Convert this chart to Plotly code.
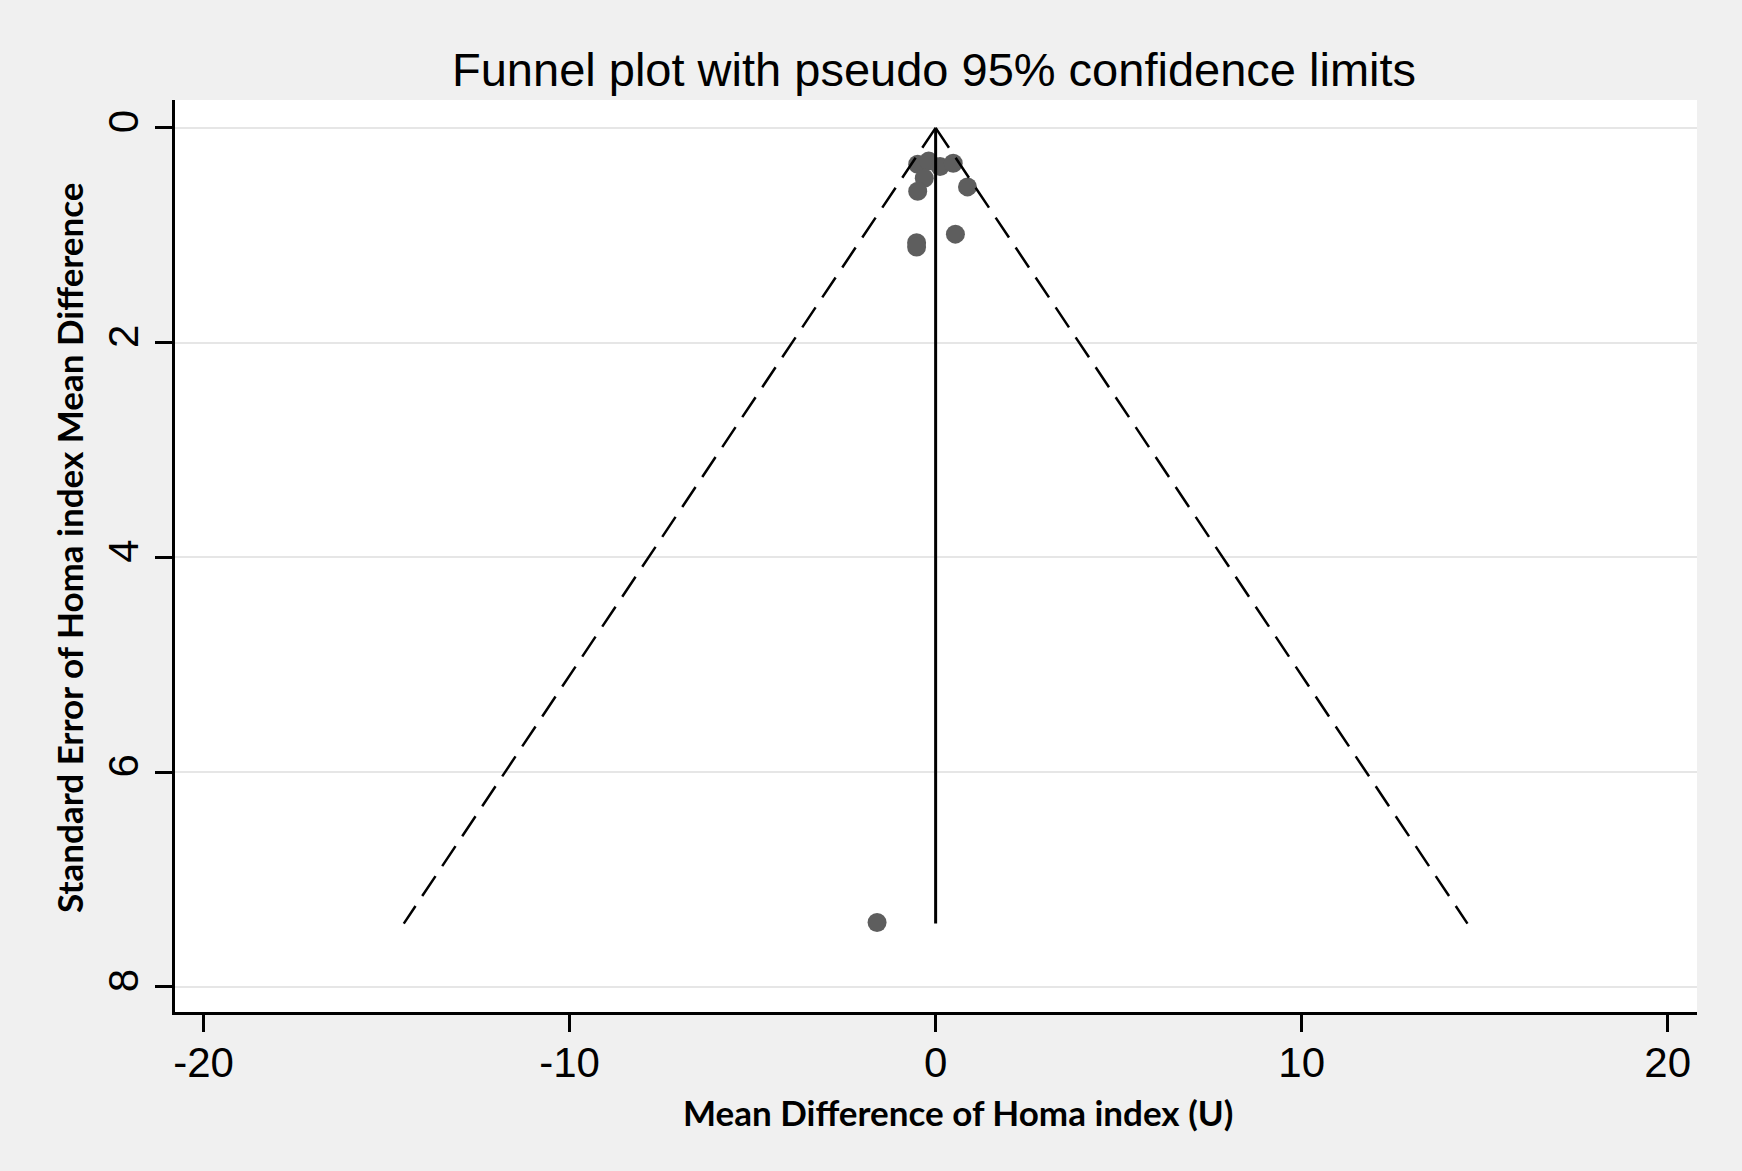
import plotly.graph_objects as go

# Study estimates (mean difference, standard error)
mean_diff = [-0.49, -0.19, 0.12, 0.48, -0.31, -0.49, 0.87, -0.52, -0.52, 0.54, -1.60]
std_err = [0.34, 0.31, 0.36, 0.33, 0.47, 0.59, 0.55, 1.07, 1.11, 0.99, 7.40]

# Pooled estimate line and pseudo 95% confidence limits
pooled_x = [0.0, 0.0]
pooled_se = [0.0, 7.41]
funnel_se = [0.0, 7.41]
funnel_lower = [0.0, -14.53]
funnel_upper = [0.0, 14.53]

x_ticks = [-20, -10, 0, 10, 20]
y_ticks = [0, 2, 4, 6, 8]

title_text = "Funnel plot with pseudo 95% confidence limits"
x_title = "Mean Difference of Homa index (U)"
y_title = "Standard Error of Homa index Mean Difference"

fig = go.Figure()

fig.add_trace(go.Scatter(
    x=mean_diff, y=std_err, mode="markers",
    marker=dict(size=19, color="#5e5e5e", line=dict(width=0)),
    showlegend=False, hoverinfo="skip"))

for xs in (funnel_lower, funnel_upper):
    fig.add_trace(go.Scatter(
        x=xs, y=funnel_se, mode="lines",
        line=dict(color="black", width=2.5, dash="24px,12px"),
        showlegend=False, hoverinfo="skip"))

fig.add_trace(go.Scatter(
    x=pooled_x, y=pooled_se, mode="lines",
    line=dict(color="black", width=3),
    showlegend=False, hoverinfo="skip"))

tick_font = dict(family="Liberation Sans, Arial, sans-serif", size=42, color="black")
label_font = dict(family="Lato, Open Sans, sans-serif", size=35, color="black")

fig.update_layout(
    width=1742, height=1171, autosize=False,
    paper_bgcolor="#f0f0f0", plot_bgcolor="white",
    margin=dict(l=175, r=45, t=100, b=159),
    xaxis=dict(
        range=[-20.78, 20.8], tickvals=x_ticks, ticktext=[str(v) for v in x_ticks],
        showgrid=False, zeroline=False, showline=True, linecolor="black", linewidth=2.5,
        ticks="outside", ticklen=17, tickwidth=2.5, tickcolor="black",
        tickfont=tick_font, ticklabelstandoff=-5),
    yaxis=dict(
        range=[8.233, -0.259], tickvals=y_ticks, ticktext=[str(v) for v in y_ticks],
        showgrid=True, gridcolor="#e6e6e6", gridwidth=2,
        zeroline=False, showline=True, linecolor="black", linewidth=2.5,
        ticks="outside", ticklen=17, tickwidth=2.5, tickcolor="black",
        tickangle=-90, tickfont=tick_font, ticklabelstandoff=0),
    annotations=[
        dict(text=title_text, xref="paper", yref="paper", x=0.4987, y=1.033,
             xanchor="center", yanchor="middle", showarrow=False,
             font=dict(family="Liberation Sans, Arial, sans-serif", size=47, color="black")),
        dict(text="<b>" + x_title + "</b>", xref="paper", yref="paper", x=0.5145, y=-0.1095,
             xanchor="center", yanchor="middle", showarrow=False, font=label_font),
        dict(text="<b>" + y_title + "</b>", xref="paper", yref="paper", x=-0.0697, y=0.5088,
             xanchor="center", yanchor="middle", showarrow=False, textangle=-90,
             font=label_font),
    ],
)

fig.write_html("out.html")
